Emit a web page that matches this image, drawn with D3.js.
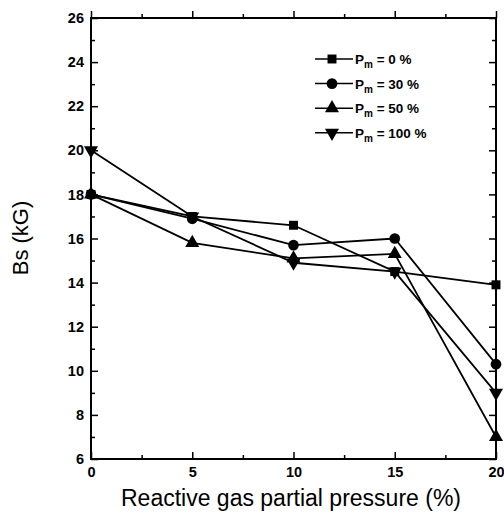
<!DOCTYPE html>
<html>
<head>
<meta charset="utf-8">
<script src="https://cdn.jsdelivr.net/npm/d3@7"></script>
<style>
  body { margin: 0; background: #fff; }
  text { font-family: "Liberation Sans", Arial, sans-serif; }
</style>
</head>
<body>
<div id="chart"></div>
<script>
// data
var pressure = [0, 5, 10, 15, 20];
var pm0   = [18.0, 17.0, 16.6, 14.5, 13.9];
var pm30  = [18.0, 16.9, 15.7, 16.0, 10.3];
var pm50  = [18.0, 15.8, 15.1, 15.3, 7.0];
var pm100 = [20.0, 17.0, 14.9, 14.5, 9.0];
var seriesNames = ["0 %", "30 %", "50 %", "100 %"];
var seriesSymbols = ["square", "circle", "up", "down"];
var xTicks = [0, 5, 10, 15, 20];
var yTicks = [6, 8, 10, 12, 14, 16, 18, 20, 22, 24, 26];

var W = 504, H = 517;
var margin = {top: 18, right: 8, bottom: 58, left: 91},
    width = W - margin.left - margin.right,
    height = H - margin.top - margin.bottom;

var svg = d3.select("#chart").append("svg")
    .attr("width", W)
    .attr("height", H)
  .append("g")
    .attr("transform", "translate(" + margin.left + "," + margin.top + ")");

var x = d3.scaleLinear().domain([0, 20]).range([0, width]);
var y = d3.scaleLinear().domain([6, 26]).range([height, 0]);

// ticks on all four sides, pointing inward
function ticks(axisFn, scale, vals, len, labels) {
  return axisFn(scale).tickValues(vals).tickSizeInner(-len).tickSizeOuter(0)
    .tickPadding(labels ? 10 : 0).tickFormat(labels ? d3.format("d") : "");
}
var minorX = d3.range(2.5, 20, 5), minorY = d3.range(7, 26, 2);

var gx = svg.append("g").attr("transform", "translate(0," + height + ")");
gx.call(ticks(d3.axisBottom, x, xTicks, 7, true));
svg.append("g").attr("transform", "translate(0," + height + ")").call(ticks(d3.axisBottom, x, minorX, 4, false));
svg.append("g").call(ticks(d3.axisTop, x, xTicks, -7, false).tickSizeInner(7));
svg.append("g").call(ticks(d3.axisTop, x, minorX, -4, false).tickSizeInner(4));
var gy = svg.append("g");
gy.call(ticks(d3.axisLeft, y, yTicks, 7, true).tickPadding(7));
svg.append("g").call(ticks(d3.axisLeft, y, minorY, 4, false));
svg.append("g").attr("transform", "translate(" + width + ",0)").call(ticks(d3.axisRight, y, yTicks, 7, false));
svg.append("g").attr("transform", "translate(" + width + ",0)").call(ticks(d3.axisRight, y, minorY, 4, false));

svg.selectAll(".domain").remove();
svg.selectAll(".tick line").attr("stroke", "#000").attr("stroke-width", 1.5);
svg.selectAll(".tick text").attr("font-size", 14.5).attr("font-weight", "bold").attr("fill", "#000");
gx.selectAll(".tick text").attr("dy", "0.55em");

svg.append("rect")
    .attr("width", width).attr("height", height)
    .attr("fill", "none").attr("stroke", "#000").attr("stroke-width", 2);

var symbolType = {
  square: d3.symbolSquare, circle: d3.symbolCircle, up: d3.symbolTriangle, down: d3.symbolTriangle
};
var symbolSize = {square: 80, circle: 90, up: 85, down: 85};
function marker(sel, s) {
  sel.attr("d", d3.symbol().type(symbolType[s]).size(symbolSize[s]))
     .attr("fill", "#000");
  return sel;
}

var allSeries = [pm0, pm30, pm50, pm100];
var line = d3.line().x(function(d, i) { return x(pressure[i]); }).y(function(d) { return y(d); });

allSeries.forEach(function(vals, k) {
  var g = svg.append("g");
  g.append("path").datum(vals)
    .attr("d", line).attr("fill", "none").attr("stroke", "#000").attr("stroke-width", 1.8);
  g.selectAll("path.m").data(vals).enter().append("path").attr("class", "m")
    .call(marker, seriesSymbols[k])
    .attr("transform", function(d, i) {
      var t = "translate(" + x(pressure[i]) + "," + y(d) + ")";
      if (seriesSymbols[k] === "down") t += " rotate(180)";
      return t;
    });
});

// legend
var leg = svg.append("g").attr("transform", "translate(" + (315 - margin.left) + "," + (59 - margin.top) + ")");
seriesNames.forEach(function(name, k) {
  var row = leg.append("g").attr("transform", "translate(0," + k * 24.6 + ")");
  row.append("line").attr("x1", 0).attr("x2", 38).attr("stroke", "#000").attr("stroke-width", 1.5);
  row.append("path").call(marker, seriesSymbols[k])
    .attr("transform", "translate(17,0)" + (seriesSymbols[k] === "down" ? " rotate(180)" : ""));
  var t = row.append("text").attr("x", 40).attr("y", 5)
    .attr("font-size", 13.5).attr("font-weight", "bold").attr("fill", "#000");
  t.append("tspan").text("P");
  t.append("tspan").attr("font-size", 10).attr("dy", 4).text("m");
  t.append("tspan").attr("dy", -4).text(" = " + name);
});

// axis titles
svg.append("text")
    .attr("x", 291 - margin.left).attr("y", 506 - margin.top)
    .attr("text-anchor", "middle").attr("font-size", 23)
    .text("Reactive gas partial pressure (%)");
svg.append("text")
    .attr("transform", "translate(" + (28 - margin.left) + "," + (238 - margin.top) + ") rotate(-90)")
    .attr("text-anchor", "middle").attr("font-size", 22)
    .text("Bs (kG)");
</script>
</body>
</html>
